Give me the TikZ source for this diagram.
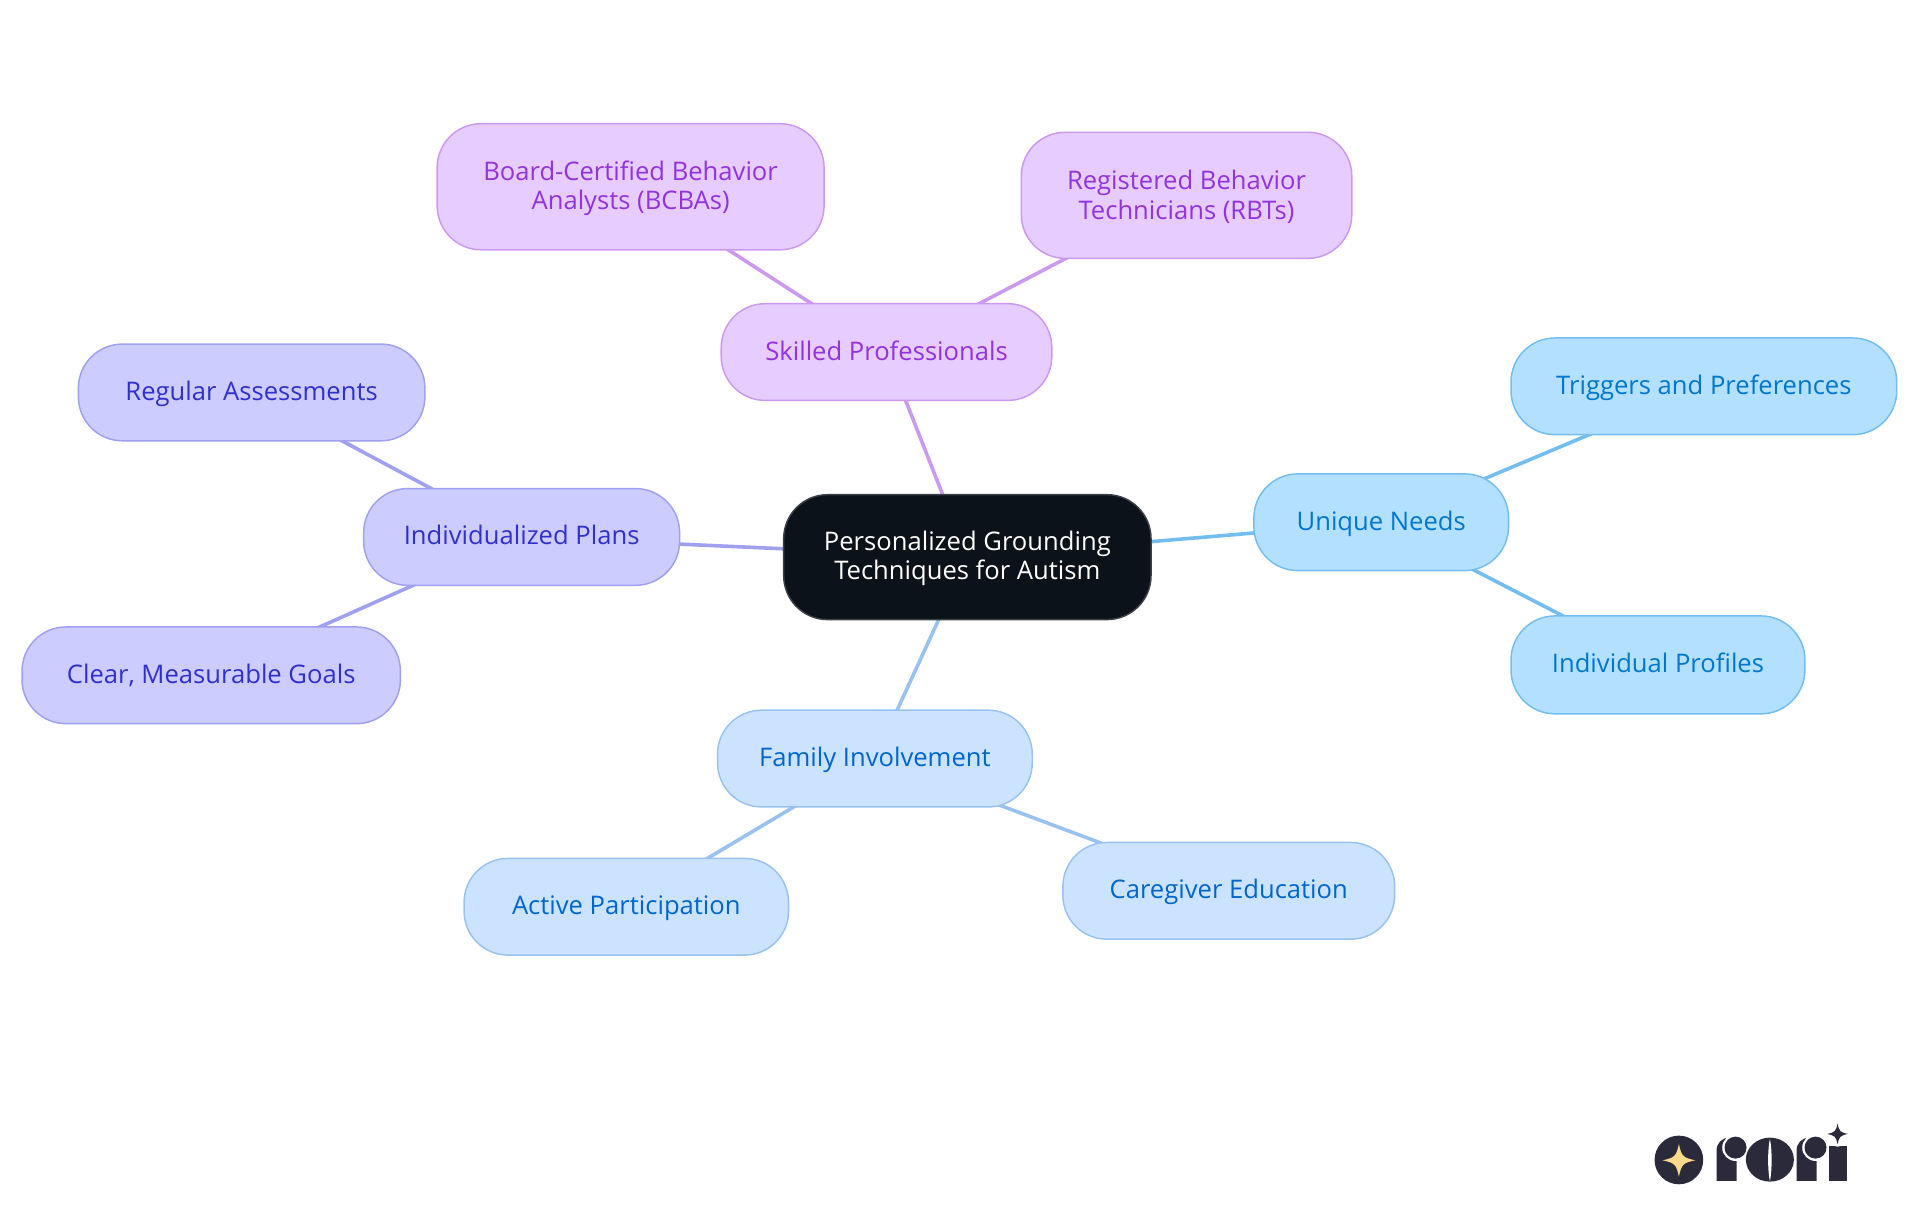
\documentclass[tikz,border=0pt]{standalone}
\usepackage{fontspec}
\setmainfont{Open Sans}
\usetikzlibrary{backgrounds}
\definecolor{rootfill}{HTML}{0B1219}\definecolor{rootline}{HTML}{3A4046}
\definecolor{pfill}{HTML}{E6CCFF}\definecolor{pline}{HTML}{CC99F0}\definecolor{ptext}{HTML}{9333DD}
\definecolor{ifill}{HTML}{CCCCFF}\definecolor{iline}{HTML}{A0A0F0}\definecolor{itext}{HTML}{3030CC}
\definecolor{sfill}{HTML}{B3E0FF}\definecolor{sline}{HTML}{73BDF0}\definecolor{stext}{HTML}{0077CC}
\definecolor{bfill}{HTML}{CCE3FF}\definecolor{bline}{HTML}{99C2F0}\definecolor{btext}{HTML}{0066CC}
\definecolor{logodark}{HTML}{2A2A3A}\definecolor{logostar}{HTML}{FBD98A}
\newcommand{\fourstar}[5]{\fill[#1] (#2-#4,#3) .. controls (#2-0.25*#4,#3-0.16*#5) and (#2-0.16*#4,#3-0.25*#5) .. (#2,#3-#5) .. controls (#2+0.16*#4,#3-0.25*#5) and (#2+0.25*#4,#3-0.16*#5) .. (#2+#4,#3) .. controls (#2+0.25*#4,#3+0.16*#5) and (#2+0.16*#4,#3+0.25*#5) .. (#2,#3+#5) .. controls (#2-0.16*#4,#3+0.25*#5) and (#2-0.25*#4,#3+0.16*#5) .. cycle;}
\newcommand{\logor}[1]{\fill[logodark] (#1,243) -- (#1,152) .. controls (#1,130) and (#1+15,114) .. (#1+38,113) -- (#1+60,130) -- (#1+60,243) -- cycle;
\fill[white] (#1+57,143) circle (40);
\fill[logodark] (#1+57,143) circle (33);}
\tikzset{
 x=0.91837pt,y=-0.91837pt,
 mm/.style={draw,line width=1.1pt,rounded corners=33pt,align=center,inner sep=0pt,font=\fontsize{19.2}{22}\selectfont},
 rootnode/.style={mm,fill=rootfill,draw=rootline,text=white},
 pnode/.style={mm,fill=pfill,draw=pline,text=ptext},
 inode/.style={mm,fill=ifill,draw=iline,text=itext},
 snode/.style={mm,fill=sfill,draw=sline,text=stext},
 bnode/.style={mm,fill=bfill,draw=bline,text=btext},
 plink/.style={draw=pline,line width=2.7pt},
 ilink/.style={draw=iline,line width=2.7pt},
 slink/.style={draw=sline,line width=2.7pt},
 blink/.style={draw=bline,line width=2.7pt},
}
\newcommand{\ph}{\vphantom{Agy}\rule{0pt}{16.6pt}}
\newcommand{\mmnode}[7]{\node[#1,minimum width=#5*0.91837pt-#4*0.91837pt,minimum height=#7*0.91837pt-#6*0.91837pt] (#2) at ({(#4+#5)/2},{(#6+#7)/2}) {\ph #3};}
\begin{document}
\begin{tikzpicture}
\useasboundingbox (0,0) rectangle (1568,992);
\mmnode{rootnode}{root}{Personalized Grounding\\Techniques for Autism}{640}{940}{404}{506}
\mmnode{pnode}{skilled}{Skilled Professionals}{589}{859}{248}{327}
\mmnode{pnode}{board}{Board-Certified Behavior\\Analysts (BCBAs)}{357}{673}{101}{204}
\mmnode{pnode}{registered}{Registered Behavior\\Technicians (RBTs)}{834}{1104}{108}{211}
\mmnode{snode}{unique}{Unique Needs}{1024}{1232}{387}{466}
\mmnode{snode}{triggers}{Triggers and Preferences}{1234}{1549}{276}{355}
\mmnode{snode}{profiles}{Individual Profiles}{1234}{1474}{503}{583}
\mmnode{bnode}{family}{Family Involvement}{586}{843}{580}{659}
\mmnode{bnode}{active}{Active Participation}{379}{644}{701}{780}
\mmnode{bnode}{caregiver}{Caregiver Education}{868}{1139}{688}{767}
\mmnode{inode}{plans}{Individualized Plans}{297}{555}{399}{478}
\mmnode{inode}{regular}{Regular Assessments}{64}{347}{281}{360}
\mmnode{inode}{goals}{Clear, Measurable Goals}{18}{327}{512}{591}
\begin{scope}[on background layer]
\draw[plink] (root.center) -- (skilled.center);
\draw[plink] (skilled.center) -- (board.center);
\draw[plink] (skilled.center) -- (registered.center);
\draw[slink] (root.center) -- (unique.center);
\draw[slink] (unique.center) -- (triggers.center);
\draw[slink] (unique.center) -- (profiles.center);
\draw[blink] (root.center) -- (family.center);
\draw[blink] (family.center) -- (active.center);
\draw[blink] (family.center) -- (caregiver.center);
\draw[ilink] (root.center) -- (plans.center);
\draw[ilink] (plans.center) -- (regular.center);
\draw[ilink] (plans.center) -- (goals.center);
\end{scope}
\begin{scope}[shift={(1322.9,898.3)},x=0.25pt,y=-0.25pt]
\fill[logodark] (177,180) circle (73);
\fourstar{logostar}{177}{181}{49}{49}
\logor{290}
\fill[logodark] (450,179) ellipse (72 and 66);
\fill[white] (450,116) .. controls (443,150) and (443,210) .. (450,245) .. controls (457,210) and (457,150) .. (450,116) -- cycle;
\logor{530}
\fill[logodark] (627,243) rectangle (680,138);
\fill[white] (653,102) circle (38);
\fourstar{logodark}{653}{102}{31}{31}
\end{scope}
\end{tikzpicture}
\end{document}
